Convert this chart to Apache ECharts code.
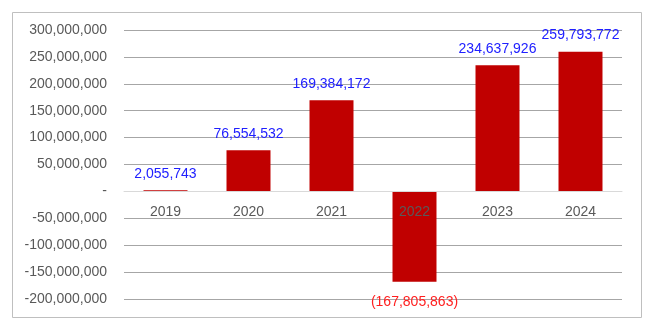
<!DOCTYPE html>
<html><head><meta charset="utf-8">
<script src="https://cdn.jsdelivr.net/npm/echarts@6/dist/echarts.min.js"></script>
<style>html,body{margin:0;padding:0;background:#fff}#c{width:650px;height:329px}</style>
</head><body><div id="c"></div>
<script>
var categories = ['2019','2020','2021','2022','2023','2024'];
var values = [2055743, 76554532, 169384172, -167805863, 234637926, 259793772];
var yMin = -200000000, yMax = 300000000, yStep = 50000000;

function fmt(n){ return Math.abs(n).toString().replace(/\B(?=(\d{3})+(?!\d))/g, ','); }

var font = '"Liberation Sans", Arial, sans-serif';
var chart = echarts.init(document.getElementById('c'), null, {renderer:'canvas'});
chart.setOption({
  animation: false,
  backgroundColor: '#fff',
  graphic: [{type:'rect', shape:{x:12.5,y:12.5,width:629,height:305}, style:{fill:'none', stroke:'#bfbfbf', lineWidth:1}, z:-1}],
  grid: {left:124, right:28, top:30, bottom:30, containLabel:false, outerBoundsMode:'none'},
  xAxis: {
    type:'category', data: categories, z: 5, position:'bottom', offset:0,
    axisLine:{show:true, onZero:false, lineStyle:{color:'#d9d9d9'}},
    axisTick:{show:false},
    axisLabel:{color:'#595959', fontSize:14, fontFamily:font, margin:14}
  },
  yAxis: {
    type:'value', min:yMin, max:yMax, interval:yStep,
    axisLine:{show:false}, axisTick:{show:false},
    splitLine:{lineStyle:{color:'#a6a6a6', width:1}},
    axisLabel:{color:'#595959', fontSize:14, fontFamily:font, margin:17,
      formatter:function(v){ return v===0 ? '-' : (v<0?'-':'') + fmt(v); }}
  },
  series: [{
    type:'bar', data: values.map(function(v){
      return {value:v, label:{position: v<0?'bottom':'top', distance: v<0?13:9, color: v<0?'#ff2020':'#2020ff'}};
    }),
    barWidth:'53%', z:2,
    itemStyle:{color:'#c00000'},
    label:{show:true, fontSize:14, fontFamily:font, distance:9,
      formatter:function(p){ return p.value<0 ? '(' + fmt(p.value) + ')' : fmt(p.value); }}
  }]
});
var yZero = chart.convertToPixel({yAxisIndex:0}, 0);
var yBottom = chart.convertToPixel({yAxisIndex:0}, yMin);
chart.setOption({xAxis:{offset: yZero - yBottom}});
</script></body></html>
